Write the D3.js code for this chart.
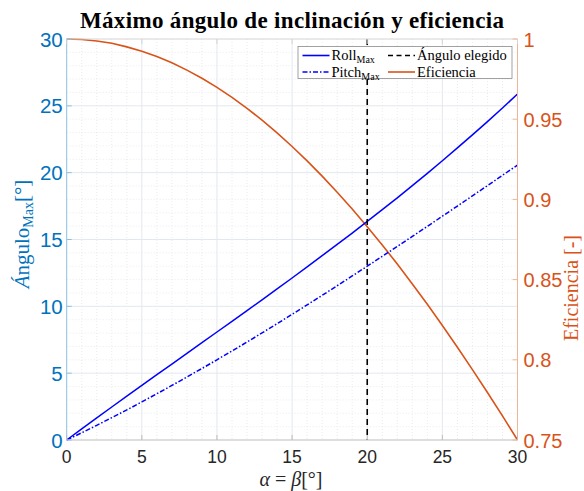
<!DOCTYPE html>
<html>
<head>
<meta charset="utf-8">
<script src="https://cdn.jsdelivr.net/npm/d3@7/dist/d3.min.js"></script>
<style>
  html, body { margin: 0; padding: 0; background: #fff; }
  svg { display: block; }
</style>
</head>
<body>
<svg id="chart" width="584" height="491"></svg>
<script>
// ---- data ----
const alpha = [0,1,2,3,4,5,6,7,8,9,10,11,12,13,14,15,16,17,18,19,20,21,22,23,24,25,26,27,28,29,30];
const rollMax = [0,0.83,1.65,2.47,3.28,4.08,4.89,5.68,6.48,7.28,8.08,8.88,9.68,10.49,11.31,12.12,12.95,13.79,14.63,15.48,16.35,17.23,18.12,19.03,19.95,20.89,21.85,22.83,23.82,24.84,25.88];
const pitchMax = [0,0.54,1.10,1.67,2.25,2.85,3.46,4.08,4.71,5.35,6.00,6.66,7.33,8.01,8.70,9.40,10.11,10.82,11.54,12.27,13.00,13.74,14.48,15.23,15.98,16.74,17.50,18.27,19.03,19.80,20.57];
const eficiencia = [1,0.9997,0.9988,0.9973,0.9951,0.9924,0.9891,0.9852,0.9806,0.9755,0.9698,0.9636,0.9568,0.9494,0.9415,0.9330,0.9240,0.9145,0.9045,0.8940,0.8830,0.8716,0.8597,0.8473,0.8346,0.8214,0.8078,0.7939,0.7796,0.7650,0.75];
const anguloElegido = 20;
const xTicks = [0,5,10,15,20,25,30];
const leftTicks = [0,5,10,15,20,25,30];
const rightTicks = [0.75,0.8,0.85,0.9,0.95,1];
const rightTickLabels = ["0.75","0.8","0.85","0.9","0.95","1"];
const legendItems = [
  {name:"Roll", sub:"Max", key:"roll"},
  {name:"Ángulo elegido", sub:"", key:"ang"},
  {name:"Pitch", sub:"Max", key:"pitch"},
  {name:"Eficiencia", sub:"", key:"ef"}
];

// ---- layout ----
const L = 66.7, R = 517.5, T = 39, B = 440;
const BLUE_AX = "#0072BD", ORANGE = "#D95319";
const svg = d3.select("#chart");

const x = d3.scaleLinear().domain([0,30]).range([L,R]);
const yL = d3.scaleLinear().domain([0,30]).range([B,T]);
const yR = d3.scaleLinear().domain([0.75,1]).range([B,T]);

// grid
const g = svg.append("g");
const minorX = d3.range(0,31).filter(v => v % 5 !== 0);
const minorY = d3.range(0,31).filter(v => v % 5 !== 0);
g.selectAll(".mx").data(minorX).join("line")
  .attr("x1", d => x(d)).attr("x2", d => x(d)).attr("y1", T).attr("y2", B)
  .attr("stroke", "#e3e6ea").attr("stroke-width", 0.8).attr("stroke-dasharray", "1,2");
g.selectAll(".my").data(minorY).join("line")
  .attr("y1", d => yL(d)).attr("y2", d => yL(d)).attr("x1", L).attr("x2", R)
  .attr("stroke", "#e3e6ea").attr("stroke-width", 0.8).attr("stroke-dasharray", "1,2");
g.selectAll(".Mx").data(xTicks.slice(1,-1)).join("line")
  .attr("x1", d => x(d)).attr("x2", d => x(d)).attr("y1", T).attr("y2", B)
  .attr("stroke", "#e2e8ee").attr("stroke-width", 1);
g.selectAll(".My").data(leftTicks.slice(1,-1)).join("line")
  .attr("y1", d => yL(d)).attr("y2", d => yL(d)).attr("x1", L).attr("x2", R)
  .attr("stroke", "#e2e8ee").attr("stroke-width", 1);

// lines
const lineR = d3.line().x((d,i) => x(alpha[i])).y(d => yR(d));
const lineL = d3.line().x((d,i) => x(alpha[i])).y(d => yL(d));
svg.append("path").datum(eficiencia).attr("d", lineR)
  .attr("fill","none").attr("stroke", ORANGE).attr("stroke-width", 1.6);
svg.append("path").datum(rollMax).attr("d", lineL)
  .attr("fill","none").attr("stroke", "#0000FF").attr("stroke-width", 1.5);
svg.append("path").datum(pitchMax).attr("d", lineL)
  .attr("fill","none").attr("stroke", "#0000FF").attr("stroke-width", 1.5)
  .attr("stroke-dasharray", "5,2,1.5,2");
svg.append("line")
  .attr("x1", x(anguloElegido)).attr("x2", x(anguloElegido)).attr("y1", T).attr("y2", B)
  .attr("stroke", "#000").attr("stroke-width", 1.6).attr("stroke-dasharray", "6,4");

// axes lines
svg.append("line").attr("x1", L).attr("x2", R).attr("y1", B).attr("y2", B).attr("stroke", "#bdbdbd").attr("stroke-width", 1);
svg.append("line").attr("x1", L).attr("x2", R).attr("y1", T).attr("y2", T).attr("stroke", "#d4d4d4").attr("stroke-width", 1);
svg.append("line").attr("x1", L).attr("x2", L).attr("y1", T).attr("y2", B).attr("stroke", "#8cc0e3").attr("stroke-width", 1);
svg.append("line").attr("x1", R).attr("x2", R).attr("y1", T).attr("y2", B).attr("stroke", "#f0b49b").attr("stroke-width", 1);

// ticks
svg.selectAll(".xt").data(xTicks).join("line")
  .attr("x1", d => x(d)).attr("x2", d => x(d)).attr("y1", B).attr("y2", B - 5)
  .attr("stroke", "#bdbdbd");
svg.selectAll(".xtt").data(xTicks).join("line")
  .attr("x1", d => x(d)).attr("x2", d => x(d)).attr("y1", T).attr("y2", T + 5)
  .attr("stroke", "#d4d4d4");
svg.selectAll(".ylt").data(leftTicks).join("line")
  .attr("x1", L).attr("x2", L + 5).attr("y1", d => yL(d)).attr("y2", d => yL(d))
  .attr("stroke", "#8cc0e3");
svg.selectAll(".yrt").data(rightTicks).join("line")
  .attr("x1", R).attr("x2", R - 5).attr("y1", d => yR(d)).attr("y2", d => yR(d))
  .attr("stroke", "#f0b49b");

// tick labels
const sans = "'Liberation Sans', Arial, Helvetica, sans-serif";
const serif = "'Liberation Serif', 'Times New Roman', serif";
svg.selectAll(".xl").data(xTicks).join("text")
  .attr("x", d => x(d)).attr("y", 463).attr("text-anchor", "middle")
  .attr("font-family", sans).attr("font-size", 17.5).attr("fill", "#262626")
  .text(d => d);
svg.selectAll(".yll").data(leftTicks).join("text")
  .attr("x", L - 4).attr("y", d => yL(d) + 7.5).attr("text-anchor", "end")
  .attr("font-family", sans).attr("font-size", 20.5).attr("fill", BLUE_AX)
  .text(d => d);
svg.selectAll(".yrl").data(rightTicks).join("text")
  .attr("x", R + 6).attr("y", d => yR(d) + 7.5).attr("text-anchor", "start")
  .attr("font-family", sans).attr("font-size", 20).attr("fill", ORANGE)
  .text((d,i) => rightTickLabels[i]);

// title
svg.append("text").attr("x", 292).attr("y", 28).attr("text-anchor", "middle")
  .attr("font-family", serif).attr("font-weight", "bold").attr("font-size", 23)
  .attr("textLength", 424).attr("lengthAdjust", "spacing")
  .attr("fill", "#000").text("Máximo ángulo de inclinación y eficiencia");

// x label
const xl = svg.append("text").attr("x", 291).attr("y", 486).attr("text-anchor", "middle")
  .attr("font-family", serif).attr("font-size", 20).attr("fill", "#262626");
xl.append("tspan").attr("font-style", "italic").text("α");
xl.append("tspan").text(" = ");
xl.append("tspan").attr("font-style", "italic").text("β");
xl.append("tspan").text("[°]");

// left y label
const yl = svg.append("text").attr("transform", "translate(29,234) rotate(-90)")
  .attr("text-anchor", "middle").attr("font-family", serif).attr("font-size", 21).attr("fill", BLUE_AX);
yl.append("tspan").attr("font-style", "italic").text("Á");
yl.append("tspan").text("ngulo");
yl.append("tspan").attr("font-size", 14).attr("dy", 4).text("Max");
yl.append("tspan").attr("dy", -4).text("[°]");

// right y label
svg.append("text").attr("transform", "translate(578,288) rotate(-90)")
  .attr("text-anchor", "middle").attr("font-family", serif).attr("font-size", 20).attr("fill", ORANGE)
  .text("Eficiencia [-]");

// legend
const lg = svg.append("g");
lg.append("rect").attr("x", 298).attr("y", 46.5).attr("width", 214).attr("height", 32)
  .attr("fill", "#fff").attr("stroke", "#8a8a8a").attr("stroke-width", 0.8);
const pos = [[302.5, 55.5],[388, 55.5],[302.5, 72],[388, 72]];
const styles = {
  roll: {c:"#0000FF", d:null},
  ang: {c:"#000", d:"5,3.5"},
  pitch: {c:"#0000FF", d:"5,2,1.5,2"},
  ef: {c:ORANGE, d:null}
};
legendItems.forEach((it, i) => {
  const [px, py] = pos[i];
  const s = styles[it.key];
  lg.append("line").attr("x1", px).attr("x2", px + 27).attr("y1", py).attr("y2", py)
    .attr("stroke", s.c).attr("stroke-width", 1.6).attr("stroke-dasharray", s.d);
  const t = lg.append("text").attr("x", px + 29).attr("y", py + 4.5)
    .attr("font-family", serif).attr("font-size", 14.5).attr("fill", "#000");
  t.append("tspan").text(it.name);
  if (it.sub) t.append("tspan").attr("font-size", 10).attr("dy", 3).text(it.sub);
});
</script>
</body>
</html>
